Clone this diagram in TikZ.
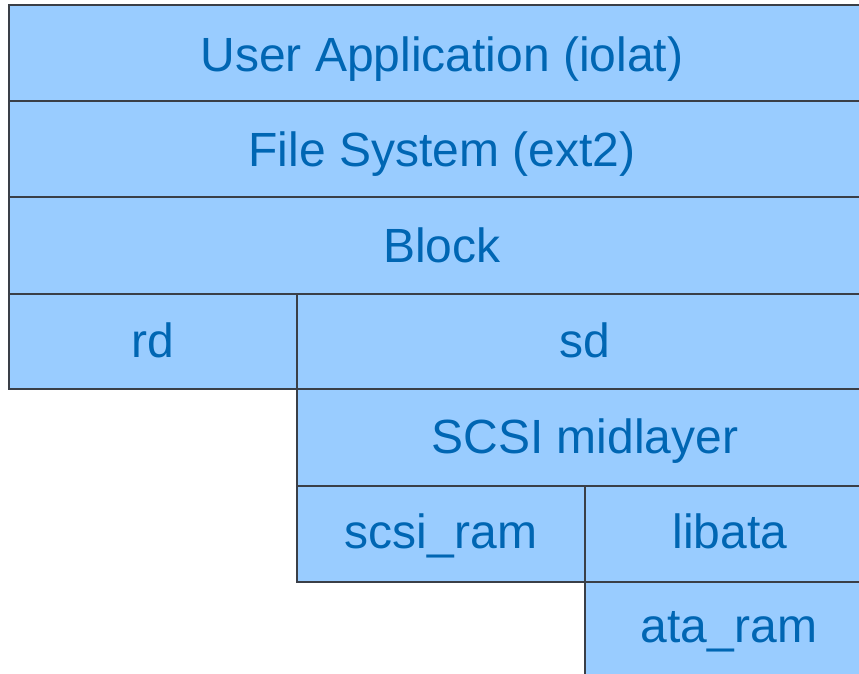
\documentclass[tikz,border=0pt]{standalone}
\usepackage{fontspec}
\setmainfont{Liberation Sans}
\definecolor{boxfill}{HTML}{99CCFF}
\definecolor{boxtext}{HTML}{0066B3}
\definecolor{boxline}{HTML}{3A3F47}
\begin{document}
\begin{tikzpicture}[x=1pt,y=1pt,
  layer/.style={fill=boxfill,draw=boxline,line width=1.4pt},
  lbl/.style={anchor=base,text=boxtext,font=\fontsize{48}{56}\selectfont,inner sep=0pt}]
\useasboundingbox (0,0) rectangle (859,674);
\clip (0,0) rectangle (859,674);
% boxes (y measured from bottom)
\path[layer] (9,669) rectangle (885,573);
\path[layer] (9,573) rectangle (885,477);
\path[layer] (9,477) rectangle (885,380);
\path[layer] (9,380) rectangle (297,285);
\path[layer] (297,380) rectangle (885,285);
\path[layer] (297,285) rectangle (885,188);
\path[layer] (297,188) rectangle (585,92);
\path[layer] (585,188) rectangle (885,92);
\path[layer] (585,92) rectangle (885,-20);
% labels
\node[lbl] (app) at (442,602) {User Application (iolat)};
\node[lbl] (fs) at (442,507) {File System (ext2)};
\node[lbl] (blk) at (442,411) {Block};
\node[lbl] (rd) at (153,316) {rd};
\node[lbl] (sd) at (585,316) {sd};
\node[lbl] (mid) at (585,220) {SCSI midlayer};
\node[lbl] (sram) at (441,125) {scsi\_ram};
\node[lbl] (lib) at (730,125) {libata};
\node[lbl] (aram) at (729,31) {ata\_ram};
\end{tikzpicture}
\end{document}
